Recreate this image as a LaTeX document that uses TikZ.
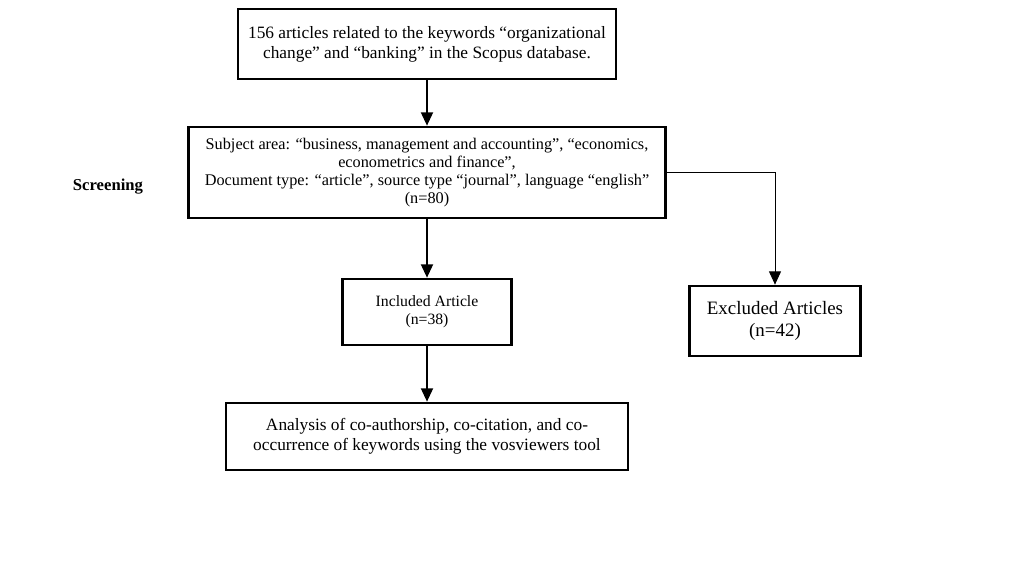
\documentclass[tikz,border=0pt]{standalone}
\usepackage{fontspec}
\setmainfont{Liberation Serif}
\usepackage{tikz}
\usetikzlibrary{arrows.meta, positioning}
\tikzstyle{stage} = [
    rectangle,
    draw=black,
    line width=2pt,
    fill=white,
    align=center,
    inner sep=2pt
]
\tikzstyle{arrow} = [
    line width=1.4pt,
    -{Triangle[length=10pt,width=9pt]}
]
\tikzstyle{sidearrow} = [
    line width=0.7pt,
    -{Triangle[length=10pt,width=9pt]}
]

\begin{document}
\begin{tikzpicture}[x=0.75pt, y=-0.75pt]
        \useasboundingbox (0,0) rectangle (1028,568);

        % Identification
        \node[stage, minimum width=283.5pt, minimum height=52.5pt, font=\fontsize{13}{14.8}\selectfont] (source) at (427,44)
            {156 articles related to the keywords “organizational\\change” and “banking” in the Scopus database.};

        % Screening
        \node[stage, minimum width=357.75pt, minimum height=68.25pt, font=\fontsize{12.2}{13.6}\selectfont] (screen) at (427,172.5)
            {Subject area: “business, management and accounting”, “economics,\\econometrics and finance”,\\Document type: “article”, source type “journal”, language “english”\\(n=80)};
        \node[font=\bfseries\fontsize{12.5}{14}\selectfont] (screenlabel) at (108,187) {Screening};

        % Included / Excluded
        \node[stage, minimum width=126.75pt, minimum height=49.5pt, font=\fontsize{11.8}{13.4}\selectfont] (included) at (427,312)
            {Included Article\\(n=38)};
        \node[stage, minimum width=128.25pt, minimum height=52.5pt, font=\fontsize{14.2}{16.2}\selectfont] (excluded) at (775,321)
            {Excluded Articles\\(n=42)};

        % Analysis
        \node[stage, minimum width=301.5pt, minimum height=50.25pt, font=\fontsize{13}{15.2}\selectfont] (analysis) at (427,436.5)
            {Analysis of co-authorship, co-citation, and co-\\occurrence of keywords using the vosviewers tool};

        % Connections
        \draw[arrow] (source) -- (screen);
        \draw[arrow] (screen) -- (included);
        \draw[arrow] (included) -- (analysis);
        \draw[sidearrow] (screen.east) -| (excluded.north);
    \end{tikzpicture}
\end{document}
